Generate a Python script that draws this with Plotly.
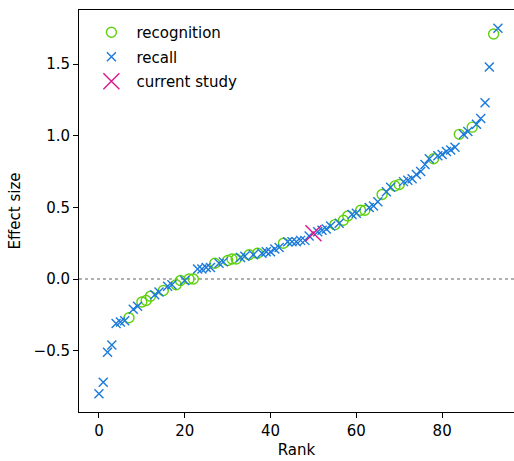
import plotly.graph_objects as go

# Effect sizes sorted by rank, and study type per rank
effect_sizes = [
    -0.80, -0.72, -0.51, -0.46, -0.31, -0.30, -0.29, -0.27, -0.21, -0.19,
    -0.16, -0.15, -0.12, -0.11, -0.09, -0.08, -0.05, -0.04, -0.04, -0.01,
    -0.01, 0.00, 0.00, 0.07, 0.07, 0.08, 0.08, 0.11, 0.11, 0.12,
    0.13, 0.14, 0.14, 0.15, 0.16, 0.17, 0.17, 0.18, 0.18, 0.19,
    0.19, 0.21, 0.22, 0.25, 0.26, 0.26, 0.26, 0.27, 0.27, 0.30,
    0.32, 0.33, 0.34, 0.35, 0.37, 0.38, 0.39, 0.41, 0.44, 0.45,
    0.46, 0.48, 0.48, 0.50, 0.51, 0.54, 0.59, 0.61, 0.64, 0.65,
    0.66, 0.68, 0.69, 0.70, 0.73, 0.75, 0.80, 0.84, 0.84, 0.86,
    0.87, 0.89, 0.90, 0.92, 1.01, 1.01, 1.03, 1.06, 1.08, 1.12,
    1.23, 1.48, 1.71, 1.75,
]
study_types = [
    "recall", "recall", "recall", "recall", "recall", "recall", "recall", "recognition", "recall", "recall",
    "recognition", "recognition", "recognition", "recall", "recall", "recognition", "recall", "recall", "recognition", "recognition",
    "recall", "recognition", "recognition", "recall", "recall", "recall", "recall", "recognition", "recall", "recall",
    "recognition", "recognition", "recognition", "recall", "recall", "recognition", "recall", "recognition", "recall", "recall",
    "recall", "recall", "recall", "recognition", "recall", "recall", "recall", "recall", "recall", "recall",
    "current", "recall", "recall", "recall", "recall", "recognition", "recall", "recognition", "recognition", "recall",
    "recall", "recognition", "recognition", "recall", "recall", "recall", "recognition", "recall", "recall", "recognition",
    "recognition", "recall", "recall", "recall", "recall", "recall", "recall", "recall", "recognition", "recall",
    "recall", "recall", "recall", "recall", "recognition", "recall", "recall", "recognition", "recall", "recall",
    "recall", "recall", "recognition", "recall",
]
ranks = list(range(len(effect_sizes)))

x_ticks = [0, 20, 40, 60, 80]
y_ticks = [-0.5, 0.0, 0.5, 1.0, 1.5]

GREEN = "#5fd10c"
BLUE = "#1a7ada"
MAGENTA = "#dc168c"
FS = 15


def pick(kind):
    xs = [r for r, t in zip(ranks, study_types) if t == kind]
    ys = [v for v, t in zip(effect_sizes, study_types) if t == kind]
    return xs, ys


fig = go.Figure()

rx, ry = pick("recognition")
fig.add_trace(go.Scatter(
    x=rx, y=ry, mode="markers", name="recognition", legendgroup="a",
    marker=dict(symbol="circle-open", size=10, color=GREEN, line=dict(width=1.4, color=GREEN)),
))
cx, cy = pick("recall")
fig.add_trace(go.Scatter(
    x=cx, y=cy, mode="markers", name="recall", legendgroup="b",
    marker=dict(symbol="x-thin-open", size=9, color=BLUE, line=dict(width=1.4, color=BLUE)),
))
sx, sy = pick("current")
fig.add_trace(go.Scatter(
    x=sx, y=sy, mode="markers", name="current study", legendgroup="c",
    marker=dict(symbol="x-thin-open", size=16, color=MAGENTA, line=dict(width=1.4, color=MAGENTA)),
))

fig.add_shape(type="line", xref="paper", yref="y", x0=0, x1=1, y0=0, y1=0,
              line=dict(color="#b0b0b0", width=2, dash="dot"), layer="below")

axis_common = dict(
    showgrid=False, zeroline=False, showline=True, linecolor="black", linewidth=1,
    ticks="outside", ticklen=5, tickwidth=1, tickcolor="black",
    tickfont=dict(family="DejaVu Sans", size=FS, color="black"),
)

fig.update_layout(
    width=514, height=461,
    margin=dict(l=79, r=0, t=10, b=49),
    paper_bgcolor="white", plot_bgcolor="white",
    font=dict(family="DejaVu Sans", size=FS, color="black"),
    xaxis=dict(range=[-4.65, 96.75], tickvals=x_ticks, mirror=True,
               title=dict(text="Rank", font=dict(size=FS), standoff=5), **axis_common),
    yaxis=dict(range=[-0.9275, 1.8775], tickvals=y_ticks, tickformat=".1f", mirror=False,
               title=dict(text="Effect size", font=dict(size=FS), standoff=9), **axis_common),
    legend=dict(x=0.017, y=0.985, xanchor="left", yanchor="top", bgcolor="rgba(0,0,0,0)",
                font=dict(family="DejaVu Sans", size=FS), itemsizing="trace",
                itemwidth=40, tracegroupgap=2),
    showlegend=True,
)

fig.write_html(
    "out.html",
    config={"displayModeBar": False},
    post_script="document.body.style.margin='0';document.body.style.overflow='hidden';",
)
